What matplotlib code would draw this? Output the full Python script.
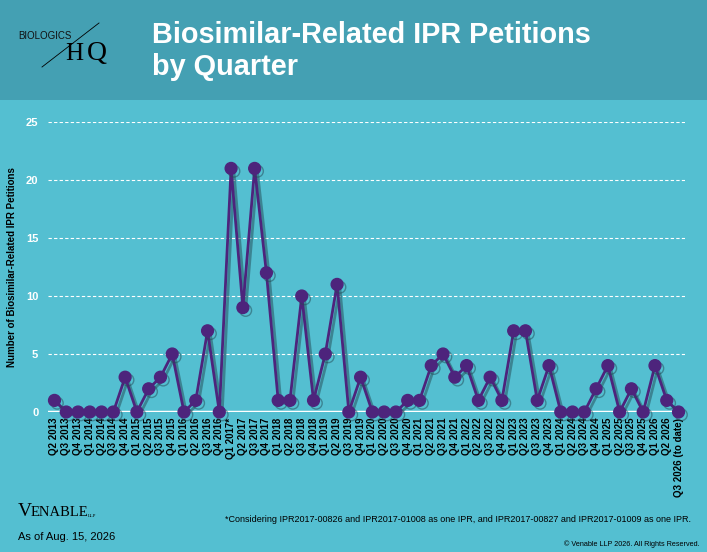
import matplotlib.pyplot as plt
import matplotlib.patheffects as pe
from matplotlib.patches import Rectangle
from matplotlib.lines import Line2D

plt.rcParams['font.family'] = ['Liberation Sans', 'DejaVu Sans']

#Data
quarters = ['Q2 2013', 'Q3 2013', 'Q4 2013',
            'Q1 2014', 'Q2 2014', 'Q3 2014', 'Q4 2014',
            'Q1 2015', 'Q2 2015', 'Q3 2015', 'Q4 2015',
            'Q1 2016', 'Q2 2016', 'Q3 2016', 'Q4 2016',
            'Q1 2017*', 'Q2 2017', 'Q3 2017', 'Q4 2017',
            'Q1 2018', 'Q2 2018', 'Q3 2018', 'Q4 2018',
            'Q1 2019', 'Q2 2019', 'Q3 2019', 'Q4 2019',
            'Q1 2020', 'Q2 2020', 'Q3 2020', 'Q4 2020',
            'Q1 2021', 'Q2 2021', 'Q3 2021', 'Q4 2021',
            'Q1 2022', 'Q2 2022', 'Q3 2022', 'Q4 2022',
            'Q1 2023', 'Q2 2023', 'Q3 2023', 'Q4 2023',
            'Q1 2024', 'Q2 2024', 'Q3 2024', 'Q4 2024',
            'Q1 2025', 'Q2 2025', 'Q3 2025', 'Q4 2025',
            'Q1 2026', 'Q2 2026', 'Q3 2026 (to date)']
petitions = [1, 0, 0,
             0, 0, 0, 3,
             0, 2, 3, 5,
             0, 1, 7, 0,
             21, 9, 21, 12,
             1, 1, 10, 1,
             5, 11, 0, 3,
             0, 0, 0, 1,
             1, 4, 5, 3,
             4, 1, 3, 1,
             7, 7, 1, 4,
             0, 0, 0, 2,
             4, 0, 2, 0,
             4, 1, 0]
y_ticks = [0, 5, 10, 15, 20, 25]

bg_body = '#54bfd1'
bg_head = '#44a0b3'
purple = '#4d247c'

fig = plt.figure(figsize=(7.07, 5.52), dpi=100)
fig.patch.set_facecolor(bg_body)
fig.patches.append(Rectangle((0, 1 - 100 / 552), 1, 100 / 552, transform=fig.transFigure,
                             facecolor=bg_head, edgecolor='none', zorder=0))

#Header
fig.text(152 / 707, 1 - 51 / 552, 'Biosimilar-Related IPR Petitions\nby Quarter', color='white',
         fontsize=20.8, fontweight='bold', ha='left', va='center', linespacing=1.15)
fig.text(18 / 707, 1 - 36 / 552, 'BIOLOGICS', fontsize=7, color='#111111', ha='left', va='center')
fig.text(65 / 707, 1 - 60 / 552, 'H', fontsize=18, color='black', ha='left', va='baseline',
         family='Liberation Serif')
fig.text(87 / 707, 1 - 60 / 552, 'Q', fontsize=20, color='black', ha='left', va='baseline',
         family='Liberation Serif')
fig.lines.append(Line2D([42 / 707, 99 / 707], [1 - 67 / 552, 1 - 23 / 552],
                        transform=fig.transFigure, color='black', lw=0.6))

#Chart
ax = fig.add_axes([48 / 707, 1 - 412 / 552, 637 / 707, 290 / 552])
ax.set_facecolor('none')
x = list(range(len(quarters)))
ax.plot(x, petitions, color=purple, lw=2, marker='o', markersize=8.5, clip_on=False, zorder=3,
        path_effects=[pe.SimpleLineShadow(offset=(2, -2), shadow_color='#234a55', alpha=0.5),
                      pe.Normal()])
ax.set_xlim(-0.55, len(quarters) - 0.45)
ax.set_ylim(0, 25)
ax.set_yticks(y_ticks)
for t in y_ticks[1:]:
    ax.axhline(t, color='white', lw=0.8, ls=(0, (3, 2)), zorder=1)
ax.axhline(0, color='white', lw=2.5, zorder=2)
for s in ax.spines.values():
    s.set_visible(False)
ax.set_xticks(x)
ax.set_xticklabels(quarters, rotation=90, fontsize=7, fontweight='bold', color='black')
ax.tick_params(axis='y', length=0, labelsize=8, labelcolor='white', pad=7)
ax.tick_params(axis='x', length=0, pad=4)
for lab in ax.get_yticklabels():
    lab.set_fontweight('bold')
ax.set_ylabel('Number of Biosimilar-Related IPR Petitions', fontsize=7, fontweight='bold',
              color='black')
ax.yaxis.set_label_coords(-31 / 637, 0.5)

#Footer
fig.text(18 / 707, 1 - 511 / 552, 'V', fontsize=14, family='Liberation Serif', va='center', ha='left')
fig.text(31 / 707, 1 - 513 / 552, 'ENABLE', fontsize=10.5, family='Liberation Serif', va='center', ha='left')
fig.text(88 / 707, 1 - 516 / 552, 'LLP', fontsize=3.5, family='Liberation Serif', va='center', ha='left')
fig.text(18 / 707, 1 - 537 / 552, 'As of Aug. 15, 2026', fontsize=8, va='center', ha='left')
fig.text(225 / 707, 1 - 520 / 552,
         '*Considering IPR2017-00826 and IPR2017-01008 as one IPR, and IPR2017-00827 and IPR2017-01009 as one IPR.',
         fontsize=6.5, va='center', ha='left')
fig.text(700 / 707, 1 - 544 / 552, '\u00a9 Venable LLP 2026. All Rights Reserved.',
         fontsize=5.2, va='center', ha='right')

plt.savefig('out.png', dpi=100, facecolor=fig.get_facecolor())
